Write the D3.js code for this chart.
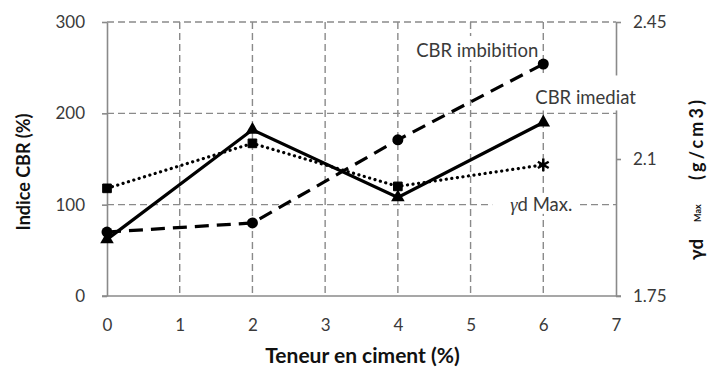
<!DOCTYPE html>
<html>
<head>
<meta charset="utf-8">
<script src="https://cdn.jsdelivr.net/npm/d3@7"></script>
<style>
  html, body { margin: 0; padding: 0; background: #fff; }
  svg { display: block; }
  text { font-family: Lato, "Open Sans", sans-serif; }
</style>
</head>
<body>
<svg id="chart" width="709" height="370"></svg>
<script>
// Cement content (%) and measured properties
const cement = [0, 2, 4, 6];
const cbrImbibition = [70, 80, 171, 254];   // CBR after soaking (%)
const cbrImediat = [62, 182, 108, 190];     // immediate CBR (%)
const gdMax = [2.025, 2.14, 2.03, 2.085];   // max dry density (g/cm3)
const gdMarkers = ["square", "square", "square", "star"];

const xTicks = [0, 1, 2, 3, 4, 5, 6, 7];
const leftTicks = [0, 100, 200, 300];
const rightTicks = [1.75, 2.1, 2.45];

const svg = d3.select("#chart");
const m = { left: 107, right: 616, top: 22, bottom: 296 };

const x = d3.scaleLinear().domain([0, 7]).range([m.left, m.right]);
const yL = d3.scaleLinear().domain([0, 300]).range([m.bottom, m.top]);
const yR = d3.scaleLinear().domain([1.75, 2.45]).range([m.bottom, m.top]);

const gridColor = "#8a8a8a";
const axisColor = "#8a8a8a";
const labelColor = "#3a3a3a";

// Dashed grid
const grid = svg.append("g");
grid.selectAll(".hg").data(leftTicks.filter(d => d > 0)).join("line")
  .attr("x1", m.left).attr("x2", m.right)
  .attr("y1", d => yL(d)).attr("y2", d => yL(d))
  .attr("stroke", gridColor).attr("stroke-width", 1.4)
  .attr("stroke-dasharray", "7,4");
grid.selectAll(".vg").data(xTicks.filter(d => d > 0 && d < 7)).join("line")
  .attr("x1", d => x(d)).attr("x2", d => x(d))
  .attr("y1", m.top).attr("y2", m.bottom)
  .attr("stroke", gridColor).attr("stroke-width", 1.4)
  .attr("stroke-dasharray", "7,4");

// Axes
function styleAxis(g) {
  g.select(".domain").attr("stroke", axisColor).attr("stroke-width", 1.6);
  g.selectAll(".tick line").attr("stroke", axisColor).attr("stroke-width", 1.6);
  g.selectAll(".tick text").attr("fill", labelColor)
    .style("font-family", "Lato, sans-serif").style("font-size", "17px");
}
const xAxis = svg.append("g").attr("transform", `translate(0,${m.bottom})`)
  .call(d3.axisBottom(x).tickValues(xTicks).tickFormat(d3.format("d")).tickSize(0).tickPadding(23))
  .call(styleAxis);
xAxis.select(".domain").attr("d", `M${m.left - 5},0H${m.right + 5}`);

svg.append("g").attr("transform", `translate(${m.left},0)`)
  .call(d3.axisLeft(yL).tickValues(leftTicks).tickSize(5).tickPadding(17).tickSizeOuter(0))
  .call(styleAxis);

svg.append("g").attr("transform", `translate(${m.right},0)`)
  .call(d3.axisRight(yR).tickValues(rightTicks).tickFormat(d => String(d)).tickSize(5).tickPadding(12).tickSizeOuter(0))
  .call(styleAxis);

// Series
const ptsImb = cement.map((c, i) => [x(c), yL(cbrImbibition[i])]);
const ptsImd = cement.map((c, i) => [x(c), yL(cbrImediat[i])]);
const ptsGd = cement.map((c, i) => [x(c), yR(gdMax[i])]);
const line = d3.line();

svg.append("path").attr("d", line(ptsGd)).attr("fill", "none")
  .attr("stroke", "#000").attr("stroke-width", 3.2)
  .attr("stroke-linecap", "round").attr("stroke-dasharray", "0.1,5.5");
svg.append("path").attr("d", line(ptsImb)).attr("fill", "none")
  .attr("stroke", "#000").attr("stroke-width", 3.2)
  .attr("stroke-dasharray", "14,8");
svg.append("path").attr("d", line(ptsImd)).attr("fill", "none")
  .attr("stroke", "#000").attr("stroke-width", 3.2)
  .attr("stroke-linejoin", "miter");

// Markers
svg.append("g").selectAll("path").data(ptsGd).join("path")
  .attr("transform", d => `translate(${d[0]},${d[1]})`)
  .attr("d", (d, i) => gdMarkers[i] === "square"
    ? d3.symbol(d3.symbolSquare, 75)()
    : d3.symbol(d3.symbolAsterisk, 110)())
  .attr("fill", "#000")
  .attr("stroke", "#000")
  .attr("stroke-width", (d, i) => gdMarkers[i] === "square" ? 1 : 2.5);
svg.append("g").selectAll("circle").data(ptsImb).join("circle")
  .attr("cx", d => d[0]).attr("cy", d => d[1]).attr("r", 5.5).attr("fill", "#000");
svg.append("g").selectAll("path").data(ptsImd).join("path")
  .attr("transform", d => `translate(${d[0]},${d[1]})`)
  .attr("d", d3.symbol(d3.symbolTriangle, 80)())
  .attr("fill", "#000");

// Series labels on white boxes
function seriesLabel(tx, ty, anchor, parts, box) {
  const g = svg.append("g");
  g.append("rect").attr("x", box[0]).attr("y", box[1])
    .attr("width", box[2]).attr("height", box[3]).attr("fill", "#fff");
  const t = g.append("text").attr("x", tx).attr("y", ty)
    .attr("text-anchor", anchor).attr("fill", labelColor)
    .style("font-size", "18.5px");
  parts.forEach(p => t.append("tspan").text(p.text)
    .style("font-family", p.serif ? "'Liberation Serif', serif" : null)
    .style("font-style", p.serif ? "italic" : null));
  return g;
}
const last = cement.length - 1;
const lx = x(cement[last]);
seriesLabel(lx - 5, yL(cbrImbibition[last]) - 7, "end",
  [{ text: "CBR imbibition" }],
  [lx - 135, yL(cbrImbibition[last]) - 28, 132, 24]);
seriesLabel(lx - 8, yL(cbrImediat[last]) - 18, "start",
  [{ text: "CBR imediat" }],
  [lx - 13, yL(cbrImediat[last]) - 47, 120, 35]);
seriesLabel(lx - 33, yR(gdMax[last]) + 46, "start",
  [{ text: "γ", serif: true }, { text: "d Max." }],
  [lx - 51, yR(gdMax[last]) + 28, 85, 21]);

// Axis titles
svg.append("text")
  .attr("x", (m.left + m.right) / 2 + 1).attr("y", 363)
  .attr("text-anchor", "middle").attr("fill", "#111")
  .style("font-size", "21px").style("font-weight", "bold")
  .text("Teneur en ciment (%)");

svg.append("text")
  .attr("transform", `translate(30,172) rotate(-90)`)
  .attr("text-anchor", "middle").attr("fill", "#111")
  .style("font-size", "18px").style("font-weight", "bold")
  .text("Indice CBR (%)");

// Right title, laid out along the rotated baseline
const rg = svg.append("g").attr("transform", "translate(703,0) rotate(-90)");
rg.append("text").attr("x", -260).attr("y", 0).attr("fill", "#111")
  .style("font-size", "19px").style("font-weight", "bold").text("γd");
rg.append("text").attr("x", -222).attr("y", -2).attr("fill", "#111")
  .style("font-size", "9px").style("font-weight", "bold").text("Max");
rg.append("text").attr("x", -180).attr("y", 0).attr("fill", "#111")
  .attr("textLength", 80).attr("lengthAdjust", "spacing")
  .style("font-size", "18px").style("font-weight", "bold").text("(g/cm3)");
</script>
</body>
</html>
